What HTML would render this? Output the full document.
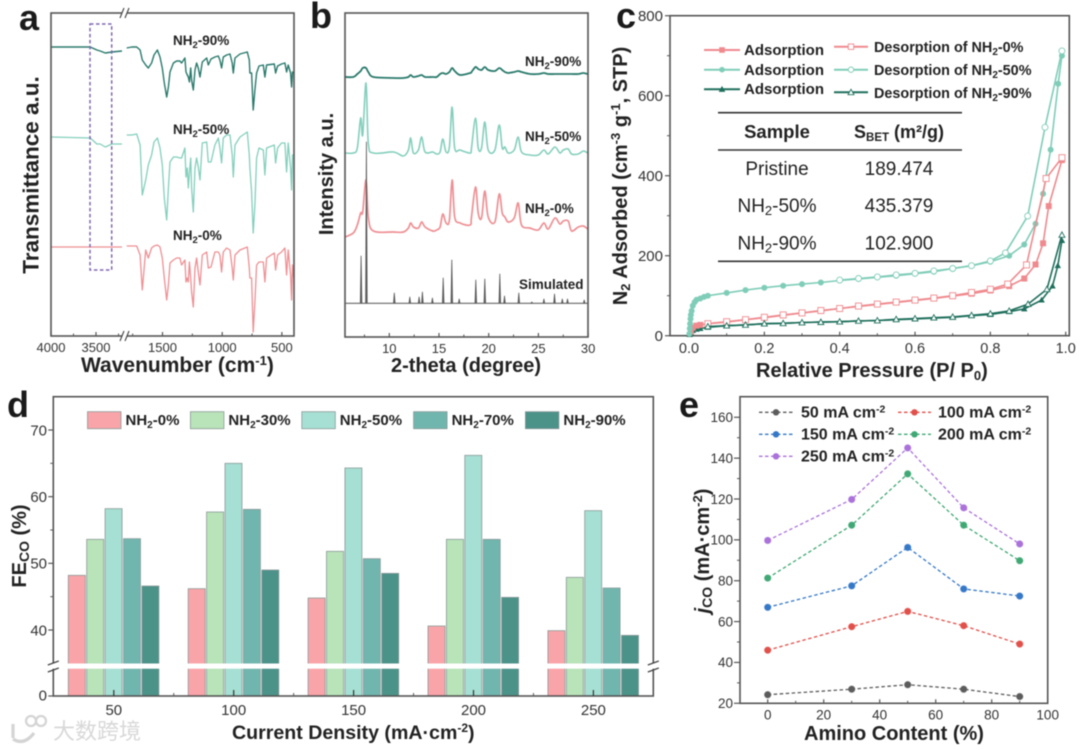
<!DOCTYPE html>
<html lang="en">
<head>
<meta charset="utf-8">
<title>MOF characterization figure</title>
<style>
html,body{margin:0;padding:0;background:#fff;}
#figure{display:block;width:1080px;height:750px;filter:blur(0.45px);font-family:"Liberation Sans","Noto Sans CJK SC",sans-serif;}
text{font-family:"Liberation Sans","Noto Sans CJK SC",sans-serif;}
.t{font-weight:bold;fill:#222;}
.letter{font-weight:bold;font-size:36px;fill:#1a1a1a;}
.lab{font-weight:bold;font-size:13.5px;fill:#222;}
</style>
</head>
<body>
<svg id="figure" xmlns="http://www.w3.org/2000/svg" width="1080" height="750" viewBox="0 0 1080 750">
<rect x="0" y="0" width="1080" height="750" fill="#fff"/>

<g id="panel-a">
  <text class="letter" x="19" y="30">a</text>
  <text class="t" font-size="22.5" transform="translate(38.5,175) rotate(-90)" text-anchor="middle">Transmittance a.u.</text>
  <text class="t" font-size="21" x="81" y="372">Wavenumber (cm<tspan dy="-7" font-size="13">-1</tspan><tspan dy="7">)</tspan></text>
  <text class="lab" x="173" y="45">NH<tspan dy="3" font-size="9.5">2</tspan><tspan dy="-3">-90%</tspan></text>
  <text class="lab" x="173" y="134">NH<tspan dy="3" font-size="9.5">2</tspan><tspan dy="-3">-50%</tspan></text>
  <text class="lab" x="173" y="240">NH<tspan dy="3" font-size="9.5">2</tspan><tspan dy="-3">-0%</tspan></text>
</g>

<g id="panel-b">
  <text class="letter" x="310" y="28">b</text>
  <text class="t" font-size="20" transform="translate(333,174) rotate(-90)" text-anchor="middle">Intensity a.u.</text>
  <text class="t" font-size="20" x="466" y="372" text-anchor="middle">2-theta (degree)</text>
  <text class="lab" x="525" y="66">NH<tspan dy="3" font-size="9.5">2</tspan><tspan dy="-3">-90%</tspan></text>
  <text class="lab" x="525" y="141">NH<tspan dy="3" font-size="9.5">2</tspan><tspan dy="-3">-50%</tspan></text>
  <text class="lab" x="525" y="213">NH<tspan dy="3" font-size="9.5">2</tspan><tspan dy="-3">-0%</tspan></text>
  <text class="lab" x="519" y="289">Simulated</text>
</g>

<g id="panel-c">
  <text class="letter" x="616" y="28">c</text>
  <text class="t" font-size="20" transform="translate(627,176) rotate(-90)" text-anchor="middle">N<tspan dy="3" font-size="13">2</tspan><tspan dy="-3"> Adsorbed (cm</tspan><tspan dy="-7" font-size="13">-3</tspan><tspan dy="7"> g</tspan><tspan dy="-7" font-size="13">-1</tspan><tspan dy="7">, STP)</tspan></text>
  <text class="t" font-size="20" x="756" y="377">Relative Pressure (P/ P<tspan dy="3" font-size="13">0</tspan><tspan dy="-3">)</tspan></text>
  <g fill="#222" font-weight="bold">
    <text x="744" y="55" font-size="15">Adsorption</text>
    <text x="744" y="75" font-size="15">Adsorption</text>
    <text x="744" y="94" font-size="15">Adsorption</text>
    <text x="874" y="52" font-size="14.4">Desorption of NH<tspan dy="3" font-size="10">2</tspan><tspan dy="-3">-0%</tspan></text>
    <text x="874" y="75" font-size="14.4">Desorption of NH<tspan dy="3" font-size="10">2</tspan><tspan dy="-3">-50%</tspan></text>
    <text x="874" y="98" font-size="14.4">Desorption of NH<tspan dy="3" font-size="10">2</tspan><tspan dy="-3">-90%</tspan></text>
  </g>
  <g fill="#222">
    <line x1="718" y1="112.7" x2="962" y2="112.7" stroke="#333" stroke-width="1.6"/>
    <line x1="718" y1="150" x2="962" y2="150" stroke="#333" stroke-width="1.6"/>
    <line x1="718" y1="261.3" x2="962" y2="261.3" stroke="#333" stroke-width="1.6"/>
    <text x="777" y="138" font-size="18.5" font-weight="bold" text-anchor="middle">Sample</text>
    <text x="899" y="138" font-size="18" font-weight="bold" text-anchor="middle">S<tspan dy="3" font-size="11.5">BET</tspan><tspan dy="-3"> (m²/g)</tspan></text>
    <text x="777" y="175" font-size="19" text-anchor="middle">Pristine</text>
    <text x="899" y="175" font-size="19" text-anchor="middle">189.474</text>
    <text x="777" y="212" font-size="19" text-anchor="middle">NH<tspan dy="3" font-size="13">2</tspan><tspan dy="-3">-50%</tspan></text>
    <text x="899" y="212" font-size="19" text-anchor="middle">435.379</text>
    <text x="777" y="249.5" font-size="19" text-anchor="middle">NH<tspan dy="3" font-size="13">2</tspan><tspan dy="-3">-90%</tspan></text>
    <text x="899" y="249.5" font-size="19" text-anchor="middle">102.900</text>
  </g>
</g>

<g id="panel-d">
  <text class="letter" x="7" y="417">d</text>
  <text class="t" font-size="20" transform="translate(26,546) rotate(-90)" text-anchor="middle">FE<tspan dy="3" font-size="14">CO</tspan><tspan dy="-3"> (%)</tspan></text>
  <text class="t" font-size="19.6" x="232" y="739">Current Density (mA·cm<tspan dy="-7" font-size="12">-2</tspan><tspan dy="7">)</tspan></text>
  <g>
    <circle cx="31" cy="721" r="5" fill="none" stroke="#d4d4d4" stroke-width="2.2"/>
    <circle cx="41" cy="721" r="5" fill="none" stroke="#d4d4d4" stroke-width="2.2"/>
    <path d="M13 724 L13 738 M13 739 Q24 746 34 733" fill="none" stroke="#d4d4d4" stroke-width="3.2"/>
    <text x="53" y="739" font-size="22" font-family="'Noto Sans CJK SC',sans-serif" fill="#d8d8d8">大数跨境</text>
  </g>
</g>

<g id="panel-e">
  <text class="letter" x="679" y="417">e</text>
  <text class="t" font-size="20" transform="translate(709,551) rotate(-90)" text-anchor="middle"><tspan font-style="italic">j</tspan><tspan dy="3" font-size="14">CO</tspan><tspan dy="-3"> (mA·cm</tspan><tspan dy="-7" font-size="13">-2</tspan><tspan dy="7">)</tspan></text>
  <text class="t" font-size="20" x="894" y="740" text-anchor="middle">Amino Content (%)</text>
  <g fill="#222" font-weight="bold" font-size="16">
    <text x="801" y="417.5">50 mA cm<tspan dy="-5" font-size="10.5">-2</tspan></text>
    <text x="938" y="417.5">100 mA cm<tspan dy="-5" font-size="10.5">-2</tspan></text>
    <text x="801" y="439.5">150 mA cm<tspan dy="-5" font-size="10.5">-2</tspan></text>
    <text x="938" y="439.5">200 mA cm<tspan dy="-5" font-size="10.5">-2</tspan></text>
    <text x="801" y="461.5">250 mA cm<tspan dy="-5" font-size="10.5">-2</tspan></text>
  </g>
</g>
</svg>

<script>
/* ---------- panel a data (FTIR) ---------- */
const ftirWavenumbers = [1800,1758,1716,1688,1669,1641,1619,1591,1571,1543,1521,1502,1485,1465,1451,1437,1409,1382,1354,1340,1312,1303,1292,1284,1275,1264,1256,1242,1228,1214,1200,1186,1167,1130,1116,1094,1061,1033,1019,1005,991,963,935,916,907,893,851,790,773,768,754,740,726,712,692,656,642,628,564,553,536,503,475,461,447,427,419,411,400];
const ftirNH90 = [288,289,289,286,276,271,268,273,281,286,279,268,253,239,249,264,273,275,275,273,278,264,261,259,254,268,256,246,266,273,268,259,274,278,271,277,279,280,276,268,279,281,282,273,263,278,282,284,276,263,263,226,246,263,270,271,259,271,272,263,270,272,273,264,271,263,249,264,263];
const ftirNH50 = [201,201,202,191,141,156,171,181,194,198,188,171,138,116,148,174,179,179,178,178,188,159,168,148,163,178,148,124,168,178,169,156,193,194,174,174,191,198,188,173,198,201,201,181,159,191,199,204,181,168,144,103,131,178,188,186,161,188,191,173,188,193,193,164,193,168,146,181,181];
const ftirNH0 = [90,90,90,81,46,86,78,88,90,91,89,78,58,36,51,73,76,78,78,71,76,54,58,54,74,58,44,29,68,78,64,51,81,84,68,69,84,84,81,64,84,88,86,68,56,81,86,89,68,58,58,4,34,71,74,74,54,78,83,66,81,84,88,61,86,61,36,71,58];
const ftirHighWavenumbers = [3994,3565,3490,3453,3397,3323,3211];
const ftirHighNH90 = [289,289,286,285,283,284,285];
const ftirHighNH50 = [199,198,192,192,189,192,192];
const ftirHighNH0 = [89,89,89,89,89,89,89];
const ftirMajorTicks = [4000,3500,1500,1000,500];
const ftirMinorTicks = [3750,3250,1750,1250,750];

/* ---------- panel b data (XRD) ---------- */
const xrdTheta = [5.54,6.38,6.78,7.12,7.32,7.66,7.89,8.4,10.41,11.42,11.92,12.15,12.42,12.93,13.26,13.6,14.37,14.77,15.11,15.38,15.71,16.05,16.32,16.58,17.12,18.13,18.27,18.67,18.94,19.28,19.61,19.95,20.62,21.06,21.36,21.63,21.96,22.57,22.97,23.3,24.14,24.98,25.55,25.99,26.66,27.16,27.5,28.0,28.34,29.01,29.51,29.95];
const xrdNH90 = [260,260,263,266,269,269,265,260,259,259,260,262,260,261,262,260,260,260,263,264,263,265,269,266,262,264,265,270,268,267,270,267,266,269,267,265,264,265,266,265,263,263,264,263,263,263,263,263,263,263,264,263];
const xrdNH50 = [184,184,189,219,202,254,194,184,185,181,187,199,184,187,200,185,185,183,185,198,185,190,230,189,187,184,189,219,189,189,215,187,187,212,189,190,184,187,200,185,182,182,187,183,190,184,187,188,183,183,186,184];
const xrdNH0 = [100,104,112,124,125,157,120,106,105,105,109,114,110,109,115,110,106,107,110,123,114,117,157,120,114,112,120,150,124,119,146,120,115,143,124,120,115,119,134,112,109,107,114,108,119,113,116,116,106,110,111,108];
const simTheta = [7.16,7.70,10.5,12.06,13.0,13.33,14.34,15.42,16.29,17.03,18.7,19.61,21.12,21.59,23.03,24.34,25.55,26.62,27.4,27.93,29.61];
const simIntensity = [81,195,44,40,40,45,39,59,77,38,57,58,63,41,44,35,38,43,38,38,37];
const simBaseline = 33.7;
const xrdMajorTicks = [10,15,20,25,30];
const xrdMinorTicks = [7.5,12.5,17.5,22.5,27.5];

/* ---------- panel c data (isotherm) ---------- */
const ads0P = [0.005,0.01,0.02,0.03,0.05,0.1,0.15,0.2,0.25,0.3,0.35,0.4,0.45,0.5,0.55,0.6,0.65,0.7,0.75,0.8,0.85,0.89,0.92,0.94,0.955,0.99];
const ads0V = [10,20,25,27,30,34,40,45,51,57,62,68,73,78,83,88,93,99,105,113,124,143,178,231,324,439];
const des0P = [0.99,0.948,0.896,0.846,0.8,0.75,0.7,0.65,0.6,0.55,0.5,0.45,0.4,0.35,0.3,0.25,0.2,0.15,0.1,0.05];
const des0V = [445,393,177,129,116,108,100,94,89,84,79,74,68,63,57,52,46,40,35,30];
const ads50P = [0.001,0.002,0.003,0.004,0.005,0.007,0.01,0.015,0.02,0.03,0.04,0.05,0.1,0.15,0.2,0.25,0.3,0.35,0.4,0.45,0.5,0.55,0.6,0.65,0.7,0.75,0.8,0.85,0.89,0.92,0.94,0.96,0.98,0.99];
const ads50V = [5,18,30,42,52,62,75,84,90,93,97,100,107,114,120,125,129,133,138,142,146,150,155,160,168,175,185,200,228,280,355,465,630,700];
const des50P = [0.99,0.945,0.899,0.84,0.8,0.75,0.7,0.65,0.6,0.55,0.5,0.45,0.4];
const des50V = [712,521,299,207,187,175,168,162,156,152,147,143,139];
const ads90P = [0.002,0.005,0.01,0.02,0.03,0.05,0.1,0.15,0.2,0.25,0.3,0.35,0.4,0.45,0.5,0.55,0.6,0.65,0.7,0.75,0.8,0.85,0.89,0.936,0.965,0.979,0.99];
const ads90V = [3,8,13,16,18,21,25,27,30,31,33,34,35,37,38,40,42,44,46,50,53,60,67,89,124,175,238];
const des90P = [0.99,0.95,0.9,0.85,0.8,0.75,0.7,0.65,0.6,0.55,0.5,0.45,0.4,0.35,0.3,0.25,0.2,0.15,0.1,0.05];
const des90V = [252,116,79,62,55,51,47,45,43,41,38,37,35,34,33,31,30,27,25,23];
const isoXTicks = [0,0.2,0.4,0.6,0.8,1.0];
const isoXMinor = [0.1,0.3,0.5,0.7,0.9];
const isoYTicks = [0,200,400,600,800];
const isoYMinor = [100,300,500,700];

/* ---------- panel d data (bars) ---------- */
const densityCategories = [50,100,150,200,250];
const barSeriesNames = ['NH2-0%','NH2-30%','NH2-50%','NH2-70%','NH2-90%'];
const feNH0 = [48.2,46.2,44.8,40.6,39.9];
const feNH30 = [53.6,57.7,51.8,53.6,47.9];
const feNH50 = [58.2,65,64.3,66.2,57.9];
const feNH70 = [53.7,58.1,50.7,53.6,46.3];
const feNH90 = [46.6,49,48.5,44.9,39.2];
const feYTicks = [40,50,60,70];
const feYMinor = [45,55,65];

/* ---------- panel e data (lines) ---------- */
const aminoContent = [0,30,50,70,90];
const j50 = [24.2,26.9,29.1,26.9,23.3];
const j100 = [46,57.5,65,58,49];
const j150 = [67,77.5,96.3,76,72.5];
const j200 = [81.3,107.2,132.3,107.2,89.8];
const j250 = [99.7,119.8,145,115.7,98];
const jXTicks = [0,20,40,60,80,100];
const jYTicks = [20,40,60,80,100,120,140,160];

/* ---------- helpers ---------- */
const NS = 'http://www.w3.org/2000/svg';
function mk(parent, tag, attrs, name) {
  const el = document.createElementNS(NS, tag);
  for (const k in attrs) el.setAttribute(k, attrs[k]);
  
  
  document.getElementById(parent).appendChild(el);
  return el;
}
function line(parent, x1, y1, x2, y2, stroke, width, name) {
  return mk(parent, 'line', {x1:x1, y1:y1, x2:x2, y2:y2, stroke:stroke, 'stroke-width':width}, name);
}
function label(parent, x, y, str, size, anchor, name) {
  const el = mk(parent, 'text', {x:x, y:y, 'font-size':size, 'text-anchor':anchor, fill:'#333'}, name);
  el.textContent = str;
  return el;
}
function poly(parent, xs, ys, fx, fy, stroke, width, name, extra) {
  const pts = xs.map((x, i) => fx(x).toFixed(1) + ',' + fy(ys[i]).toFixed(1)).join(' ');
  const attrs = {points:pts, fill:'none', stroke:stroke, 'stroke-width':width, 'stroke-linejoin':'round'};
  if (extra) for (const k in extra) attrs[k] = extra[k];
  return mk(parent, 'polyline', attrs, name);
}
function smooth(parent, xs, ys, fx, fy, stroke, width, name) {
  const p = xs.map((x, i) => [fx(x), fy(ys[i])]);
  let d = 'M' + p[0][0].toFixed(1) + ' ' + p[0][1].toFixed(1);
  for (let i = 0; i < p.length - 1; i++) {
    const a = p[Math.max(i - 1, 0)], b = p[i], c = p[i + 1], e = p[Math.min(i + 2, p.length - 1)];
    const c1x = b[0] + (c[0] - a[0]) / 6, c1y = b[1] + (c[1] - a[1]) / 6;
    const c2x = c[0] - (e[0] - b[0]) / 6, c2y = c[1] - (e[1] - b[1]) / 6;
    d += ' C' + c1x.toFixed(1) + ' ' + c1y.toFixed(1) + ' ' + c2x.toFixed(1) + ' ' + c2y.toFixed(1) + ' ' + c[0].toFixed(1) + ' ' + c[1].toFixed(1);
  }
  return mk(parent, 'path', {d:d, fill:'none', stroke:stroke, 'stroke-width':width, 'stroke-linejoin':'round'}, name);
}
function frame(parent, x1, y1, x2, y2) {
  return mk(parent, 'rect', {x:x1, y:y1, width:x2-x1, height:y2-y1, fill:'none', stroke:'#555', 'stroke-width':1.6}, 'plot-frame');
}
function marker(parent, kind, x, y, r, stroke, open, name) {
  const fill = open ? '#fff' : stroke;
  const sw = open ? 0.9 : 0.6;
  if (kind === 'square') return mk(parent, 'rect', {x:x-r, y:y-r, width:2*r, height:2*r, fill:fill, stroke:stroke, 'stroke-width':sw}, name);
  if (kind === 'circle') return mk(parent, 'circle', {cx:x, cy:y, r:r, fill:fill, stroke:stroke, 'stroke-width':sw}, name);
  return mk(parent, 'polygon', {points:(x-r)+','+(y+r*0.8)+' '+(x+r)+','+(y+r*0.8)+' '+x+','+(y-r), fill:fill, stroke:stroke, 'stroke-width':sw}, name);
}

/* ---------- panel a ---------- */
const A = {l:51, r:294, t:13, b:336};
const RED = '#ee9094', MINT = '#84cfbc', DEEP = '#2a7a6c';
function xA(w) { return w > 2500 ? 51 + (4000 - w) * 45 / 500 : 162.5 + (1500 - w) * 59.7 / 500; }
function yA(t) { return 336 - t; }
poly('panel-a', ftirHighWavenumbers, ftirHighNH90, xA, yA, DEEP, 1.4, 'nh2-90-high-wavenumber-trace');
poly('panel-a', ftirHighWavenumbers, ftirHighNH50, xA, yA, MINT, 1.3, 'nh2-50-high-wavenumber-trace');
poly('panel-a', ftirHighWavenumbers, ftirHighNH0, xA, yA, RED, 1.3, 'nh2-0-high-wavenumber-trace');
poly('panel-a', ftirWavenumbers, ftirNH90, xA, yA, DEEP, 1.4, 'nh2-90-trace');
poly('panel-a', ftirWavenumbers, ftirNH50, xA, yA, MINT, 1.3, 'nh2-50-trace');
poly('panel-a', ftirWavenumbers, ftirNH0, xA, yA, RED, 1.3, 'nh2-0-trace');
frame('panel-a', A.l, A.t, A.r, A.b);
mk('panel-a', 'rect', {x:90, y:24, width:21.7, height:246, fill:'none', stroke:'#7f66b2', 'stroke-width':1.5, 'stroke-dasharray':'3.5 2.5'}, 'highlight-box');
ftirMajorTicks.forEach(v => {
  const x = xA(v);
  line('panel-a', x, A.b, x, A.b - 4, '#555', 1.2, 'x-major-tick');
  label('panel-a', x, 352, String(v), 13, 'middle', 'x-tick-label');
});
ftirMinorTicks.forEach(v => {
  const x = xA(v);
  line('panel-a', x, A.b, x, A.b - 2.5, '#555', 1, 'x-minor-tick');
});
[A.t, A.b].forEach(y => {
  mk('panel-a', 'rect', {x:122, y:y-2, width:5, height:4, fill:'#fff'}, 'axis-break-gap');
  line('panel-a', 120, y+5, 124, y-5, '#444', 1.1, 'axis-break-mark');
  line('panel-a', 125, y+5, 129, y-5, '#444', 1.1, 'axis-break-mark');
});

/* ---------- panel b ---------- */
const B = {l:345, r:588, t:13, b:337};
function xB(t) { return 389.3 + (t - 10) * 9.94; }
function yB(i) { return 337 - i; }
smooth('panel-b', xrdTheta, xrdNH90, xB, yB, DEEP, 1.8, 'nh2-90-pattern');
smooth('panel-b', xrdTheta, xrdNH50, xB, yB, MINT, 1.6, 'nh2-50-pattern');
smooth('panel-b', xrdTheta, xrdNH0, xB, yB, RED, 1.7, 'nh2-0-pattern');
line('panel-b', xB(5.55), yB(simBaseline), xB(30), yB(simBaseline), '#666', 1.2, 'simulated-baseline');
simTheta.forEach((t, i) => {
  const pts = [[t-0.08, simBaseline],[t, simIntensity[i]],[t+0.08, simBaseline]];
  const el = mk('panel-b', 'polyline', {points:pts.map(p => xB(p[0]).toFixed(1)+','+yB(p[1]).toFixed(1)).join(' '), fill:'#666', stroke:'#555', 'stroke-width':0.8}, 'simulated-peak');
  el.setAttribute('stroke-linejoin', 'round');
});
frame('panel-b', B.l, B.t, B.r, B.b);
xrdMajorTicks.forEach(v => {
  const x = xB(v);
  line('panel-b', x, B.b, x, B.b - 4, '#555', 1.2, 'x-major-tick');
  label('panel-b', x, 353, String(v), 13, 'middle', 'x-tick-label');
});
xrdMinorTicks.forEach(v => {
  const x = xB(v);
  line('panel-b', x, B.b, x, B.b - 2.5, '#555', 1, 'x-minor-tick');
});

/* ---------- panel c ---------- */
const C = {l:670, r:1069.3, t:15.7, b:335.7};
const CRED = '#ef8a8e', CMINT = '#7fcdb8', CDEEP = '#1e6f5c';
function xC(p) { return 689 + 376.7 * p; }
function yC(v) { return 335.7 - 0.4 * v; }
frame('panel-c', C.l, C.t, C.r, C.b);
isoXTicks.forEach(v => {
  const x = xC(v);
  line('panel-c', x, C.b, x, C.b - 4, '#555', 1.2, 'x-major-tick');
  label('panel-c', x, 353, v.toFixed(1), 14.5, 'middle', 'x-tick-label');
});
isoXMinor.forEach(v => {
  const x = xC(v);
  line('panel-c', x, C.b, x, C.b - 2.5, '#555', 1, 'x-minor-tick');
});
isoYTicks.forEach(v => {
  const y = yC(v);
  line('panel-c', C.l, y, C.l - 5, y, '#555', 1.2, 'y-major-tick');
  label('panel-c', 663, y + 5.3, String(v), 15, 'end', 'y-tick-label');
});
isoYMinor.forEach(v => {
  const y = yC(v);
  line('panel-c', C.l, y, C.l - 3, y, '#555', 1, 'y-minor-tick');
});
function isoSeries(ps, vs, color, kind, open, name) {
  poly('panel-c', ps, vs, xC, yC, color, 1.6, name + '-line');
  ps.forEach((p, i) => marker('panel-c', kind, xC(p), yC(vs[i]), open ? 3 : 2.7, color, open, name + '-point'));
}
isoSeries(ads90P, ads90V, CDEEP, 'triangle', false, 'adsorption-90');
isoSeries(ads0P, ads0V, CRED, 'square', false, 'adsorption-0');
isoSeries(ads50P, ads50V, CMINT, 'circle', false, 'adsorption-50');
isoSeries(des0P, des0V, CRED, 'square', true, 'desorption-0');
isoSeries(des50P, des50V, CMINT, 'circle', true, 'desorption-50');
isoSeries(des90P, des90V, CDEEP, 'triangle', true, 'desorption-90');
line('panel-c', 704, 50, 740, 50, CRED, 2, 'legend-line-adsorption-0');
marker('panel-c', 'square', 722, 50, 2.5, CRED, false, 'legend-marker-adsorption-0');
line('panel-c', 704, 69.7, 740, 69.7, CMINT, 2, 'legend-line-adsorption-50');
marker('panel-c', 'circle', 722, 69.7, 2.5, CMINT, false, 'legend-marker-adsorption-50');
line('panel-c', 704, 89.3, 740, 89.3, CDEEP, 2, 'legend-line-adsorption-90');
marker('panel-c', 'triangle', 722, 89.3, 2.8, CDEEP, false, 'legend-marker-adsorption-90');
line('panel-c', 834, 46.7, 868, 46.7, CRED, 2, 'legend-line-desorption-0');
marker('panel-c', 'square', 851, 46.7, 2.7, CRED, true, 'legend-marker-desorption-0');
line('panel-c', 834, 69.7, 868, 69.7, CMINT, 2, 'legend-line-desorption-50');
marker('panel-c', 'circle', 851, 69.7, 2.7, CMINT, true, 'legend-marker-desorption-50');
line('panel-c', 834, 92.3, 868, 92.3, CDEEP, 2, 'legend-line-desorption-90');
marker('panel-c', 'triangle', 851, 92.3, 3, CDEEP, true, 'legend-marker-desorption-90');

/* ---------- panel d ---------- */
const D = {l:53.3, r:653.3, t:396.7, b:696};
const barColors = ['#f9a4a9','#b9e3b8','#a6dfd3','#70b6af','#4b9289'];
const barValues = [feNH0, feNH30, feNH50, feNH70, feNH90];
function xD(c) { return 113.8 + 119.9 * (c - 50) / 50; }
function yD(v) { return v === 0 ? D.b : 430 + (70 - v) * 6.667; }
densityCategories.forEach((c, gi) => {
  barValues.forEach((arr, si) => {
    const x = xD(c) - 45.5 + 18.4 * si;
    const y = yD(arr[gi]);
    mk('panel-d', 'rect', {x:x, y:y, width:17, height:D.b - y, fill:barColors[si], stroke:'#8a9a98', 'stroke-width':0.8}, 'bar-' + c + '-' + barSeriesNames[si].toLowerCase().replace('%',''));
  });
});
frame('panel-d', D.l, D.t, D.r, D.b);
mk('panel-d', 'rect', {x:48, y:663.5, width:612, height:5.2, fill:'#fff'}, 'axis-break-band');
[[D.l, 666.5],[D.r, 666.5]].forEach(p => {
  line('panel-d', p[0]-5.5, p[1]-1.5, p[0]+5.5, p[1]-5.5, '#444', 1.2, 'axis-break-mark');
  line('panel-d', p[0]-5.5, p[1]+5.5, p[0]+5.5, p[1]+1.5, '#444', 1.2, 'axis-break-mark');
});
feYTicks.forEach(v => {
  const y = yD(v);
  line('panel-d', D.l, y, D.l - 5, y, '#555', 1.2, 'y-major-tick');
  label('panel-d', 47, y + 5.3, String(v), 15, 'end', 'y-tick-label');
});
feYMinor.forEach(v => {
  const y = yD(v);
  line('panel-d', D.l, y, D.l - 3, y, '#555', 1, 'y-minor-tick');
});
line('panel-d', D.l, yD(0), D.l - 5, yD(0), '#555', 1.2, 'y-major-tick');
label('panel-d', 47, yD(0) + 4.5, '0', 15, 'end', 'y-tick-label');
densityCategories.forEach((c, i) => {
  const x = xD(c);
  line('panel-d', x, D.b, x, D.b - 6, '#333', 1.2, 'x-major-tick');
  label('panel-d', x, 715, String(c), 15, 'middle', 'x-tick-label');
  if (i < densityCategories.length - 1) line('panel-d', x + 59.95, D.b, x + 59.95, D.b - 3, '#555', 1, 'x-minor-tick');
});
const legendLeft = [87.5, 190.4, 301.8, 413.6, 525.4];
barSeriesNames.forEach((n, i) => {
  const sx = legendLeft[i];
  mk('panel-d', 'rect', {x:sx, y:411.7, width:33.5, height:17, fill:barColors[i], stroke:'#8a9a98', 'stroke-width':0.8}, 'legend-swatch-' + (i + 1));
  const tx = mk('panel-d', 'text', {x:sx + 38, y:425, 'font-size':15, 'font-weight':'bold', fill:'#222'}, 'legend-label-' + (i + 1));
  const parts = n.split('2');
  tx.appendChild(document.createTextNode(parts[0]));
  const sub = document.createElementNS(NS, 'tspan');
  sub.setAttribute('dy', '3');
  sub.setAttribute('font-size', '10');
  sub.textContent = '2';
  tx.appendChild(sub);
  const rest = document.createElementNS(NS, 'tspan');
  rest.setAttribute('dy', '-3');
  rest.textContent = parts[1];
  tx.appendChild(rest);
});

/* ---------- panel e ---------- */
const E = {l:740, r:1047.7, t:396.7, b:703.3};
function xE(a) { return 767.7 + 2.8 * a; }
function yE(v) { return 703.3 - (v - 20) * 2.043; }
frame('panel-e', E.l, E.t, E.r, E.b);
jXTicks.forEach(v => {
  const x = xE(v);
  line('panel-e', x, E.b, x, E.b - 4, '#555', 1.2, 'x-major-tick');
  label('panel-e', x, 719.5, String(v), 13.5, 'middle', 'x-tick-label');
  if (v < 100) line('panel-e', x + 28, E.b, x + 28, E.b - 2.5, '#555', 1, 'x-minor-tick');
});
jYTicks.forEach(v => {
  const y = yE(v);
  line('panel-e', E.l, y, E.l - 6, y, '#555', 1.2, 'y-major-tick');
  label('panel-e', 733, y + 4.8, String(v), 13.5, 'end', 'y-tick-label');
  if (v < 160) line('panel-e', E.l, yE(v + 10), E.l - 3, yE(v + 10), '#555', 1, 'y-minor-tick');
});
function jSeries(vals, color, name) {
  poly('panel-e', aminoContent, vals, xE, yE, color, 1.3, name + '-line', {'stroke-dasharray':'3.5 2.5'});
  vals.forEach((v, i) => mk('panel-e', 'circle', {cx:xE(aminoContent[i]), cy:yE(v), r:3.3, fill:color, stroke:color, 'stroke-opacity':0.45, 'stroke-width':0.8}, name + '-point'));
}
jSeries(j50, '#5c5c5c', 'series-50');
jSeries(j100, '#e2504a', 'series-100');
jSeries(j150, '#3578c8', 'series-150');
jSeries(j200, '#3fa874', 'series-200');
jSeries(j250, '#aa72da', 'series-250');
function jLegend(x1, x2, y, color, name) {
  line('panel-e', x1, y, x2, y, color, 1.3, name + '-line').setAttribute('stroke-dasharray', '3.5 2.5');
  mk('panel-e', 'circle', {cx:(x1 + x2) / 2, cy:y, r:3.2, fill:color}, name + '-marker');
}
jLegend(759, 793, 412.3, '#5c5c5c', 'legend-50');
jLegend(898, 931, 412.3, '#e2504a', 'legend-100');
jLegend(759, 793, 434.3, '#3578c8', 'legend-150');
jLegend(898, 931, 434.3, '#3fa874', 'legend-200');
jLegend(759, 793, 456.3, '#aa72da', 'legend-250');
</script>
</body>
</html>
